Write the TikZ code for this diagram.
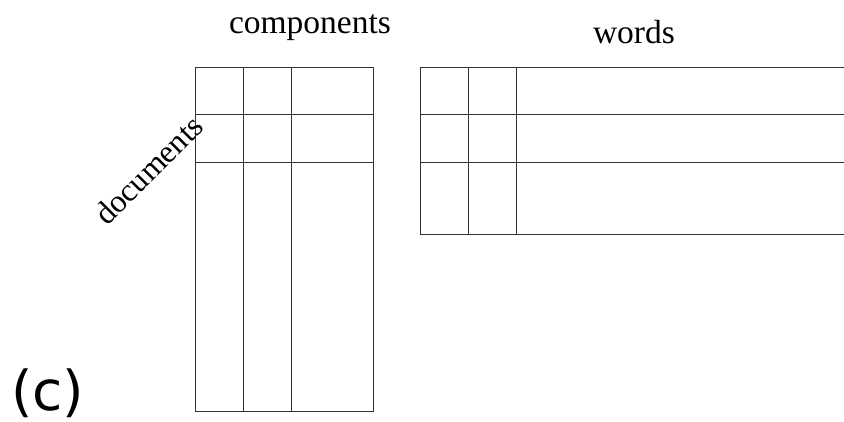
\documentclass[tikz,border=0pt]{standalone}
\usepackage{fontspec}
\setmainfont{Liberation Serif}
\newfontfamily\panelfont{DejaVu Sans}
\usetikzlibrary{positioning}

\begin{document}
\begin{tikzpicture}[x=1pt, y=-1pt,
  lbl/.style={font=\fontsize{33.5}{33.5}\selectfont, inner sep=0pt},
  cell/.style={line width=0.9pt, draw=black!80}
]
\useasboundingbox (0,0) rectangle (844,422);

% documents x components
\draw[cell] (195.5,67) rectangle (373,411);
\foreach \x in {243.5,291.5} \draw[cell] (\x,67) -- (\x,411);
\foreach \y in {114.5,162.5} \draw[cell] (195.5,\y) -- (373,\y);

% components x words (runs off to the right)
\draw[cell] (850,67) -- (420.5,67) -- (420.5,234) -- (850,234);
\foreach \x in {468.5,516.5} \draw[cell] (\x,67) -- (\x,234);
\foreach \y in {114.5,162.5} \draw[cell] (420.5,\y) -- (850,\y);

\node[lbl, anchor=base] (comp) at (310,34) {components};
\node[lbl, anchor=base] (words) at (634,44) {words};
\node[lbl, rotate=45, font=\fontsize{32}{32}\selectfont] (docs) at (148.5,170) {documents};
\node[inner sep=0pt, anchor=base west, font=\panelfont\fontsize{55}{55}\selectfont] (panel) at (11,410) {(c)};
\end{tikzpicture}
\end{document}
